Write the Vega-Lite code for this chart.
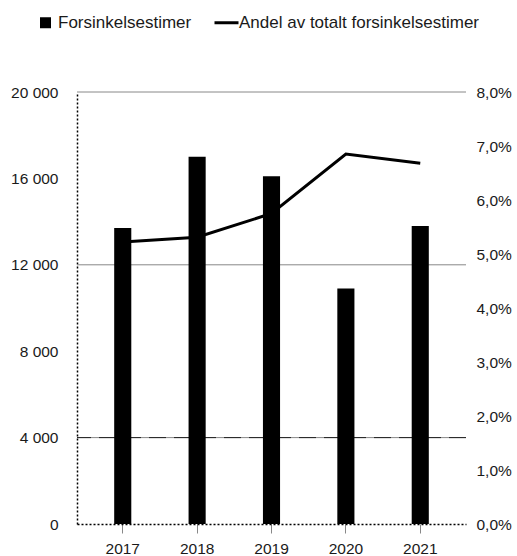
{
  "$schema": "https://vega.github.io/schema/vega-lite/v6.json",
  "width": 389,
  "height": 432,
  "autosize": "none",
  "padding": {"left": 77, "top": 92, "right": 51, "bottom": 32},
  "config": {
    "font": "Liberation Sans",
    "view": {"stroke": null},
    "locale": {"number": {"decimal": ",", "thousands": " ", "grouping": [3], "currency": ["", " kr"]}},
    "axis": {"labelFont": "Liberation Sans", "labelColor": "#1a1a1a", "grid": false, "title": null}
  },
  "datasets": {
    "main": [
      {"year": "2017", "hours": 13700, "share": 0.0522},
      {"year": "2018", "hours": 17000, "share": 0.0531},
      {"year": "2019", "hours": 16100, "share": 0.0575},
      {"year": "2020", "hours": 10900, "share": 0.0685},
      {"year": "2021", "hours": 13800, "share": 0.0668}
    ],
    "grid": [{"g": 4000}, {"g": 12000}, {"g": 20000}]
  },
  "layer": [
    {
      "data": {"name": "grid"},
      "mark": {"type": "rule", "color": "#888", "strokeWidth": 1},
      "encoding": {"y": {"field": "g", "type": "quantitative", "scale": {"domain": [0, 20000]}, "axis": null}}
    },
    {
      "data": {"name": "grid"},
      "transform": [{"filter": "datum.g == 4000"}],
      "mark": {"type": "rule", "color": "#222", "strokeWidth": 1, "strokeDash": [17, 8]},
      "encoding": {"y": {"field": "g", "type": "quantitative", "scale": {"domain": [0, 20000]}, "axis": null}}
    },
    {
      "data": {"name": "main"},
      "mark": {"type": "bar", "color": "#000"},
      "encoding": {
        "x": {"field": "year", "type": "nominal", "scale": {"paddingInner": 0.77, "paddingOuter": 0.5},
          "axis": {"labelAngle": 0, "labelFontSize": 15.5, "domainDash": [2, 2], "domainColor": "#000", "domainWidth": 1.5, "tickColor": "#888", "tickSize": 9, "labelPadding": 8}},
        "y": {"field": "hours", "type": "quantitative", "scale": {"domain": [0, 20000]},
          "axis": {"orient": "left", "values": [0, 4000, 8000, 12000, 16000, 20000], "format": ",d", "labelFontSize": 15.5, "ticks": false, "labelPadding": 19, "domainDash": [2, 2], "domainColor": "#000", "domainWidth": 1.5}},
        "color": {"datum": "Forsinkelsestimer", "type": "nominal",
          "scale": {"domain": ["Forsinkelsestimer", "Andel av totalt forsinkelsestimer"], "range": ["#000", "#000"]},
          "legend": {"orient": "none", "legendX": -40, "legendY": -78, "direction": "horizontal", "title": null,
            "labelFontSize": 17, "labelColor": "#1a1a1a", "labelOffset": 4, "labelLimit": 400, "columnPadding": 16, "symbolSize": 841,
            "encode": {"symbols": {"update": {
              "shape": {"signal": "datum.value === 'Forsinkelsestimer' ? 'square' : 'stroke'"},
              "size": {"signal": "datum.value === 'Forsinkelsestimer' ? 121 : 576"},
              "fill": {"value": "#000"},
              "stroke": {"value": "#000"},
              "strokeWidth": {"signal": "datum.value === 'Forsinkelsestimer' ? 0 : 3"},
              "opacity": {"value": 1}
            }}}}}
      }
    },
    {
      "data": {"name": "main"},
      "mark": {"type": "line", "color": "#000", "strokeWidth": 3},
      "encoding": {
        "x": {"field": "year", "type": "nominal", "scale": {"paddingInner": 0.77, "paddingOuter": 0.5}},
        "y": {"field": "share", "type": "quantitative", "scale": {"domain": [0, 0.08]},
          "axis": {"orient": "right", "values": [0, 0.01, 0.02, 0.03, 0.04, 0.05, 0.06, 0.07, 0.08], "format": ".1%", "labelFontSize": 15.5, "ticks": false, "domain": false, "labelPadding": 10}},
        "color": {"datum": "Andel av totalt forsinkelsestimer", "type": "nominal"}
      }
    }
  ],
  "resolve": {"scale": {"y": "independent"}}
}
